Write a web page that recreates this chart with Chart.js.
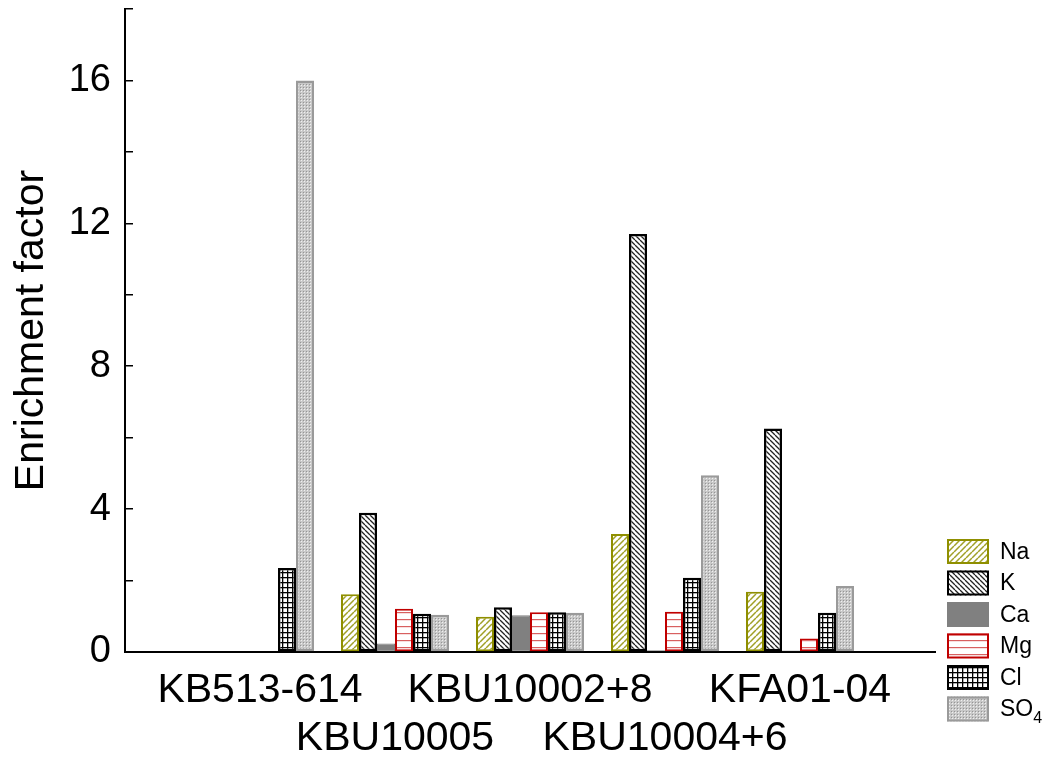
<!DOCTYPE html>
<html><head><meta charset="utf-8">
<script src="https://cdn.jsdelivr.net/npm/chart.js@4.4.1/dist/chart.umd.min.js"></script>
<style>html,body{margin:0;padding:0;background:#fff;overflow:hidden}</style>
</head><body>
<canvas id="c" width="1055" height="760" style="display:block;width:1055px;height:760px"></canvas>
<script>
const categories = ['KB513-614', 'KBU10005', 'KBU10002+8', 'KBU10004+6', 'KFA01-04'];
const seriesNames = ['Na', 'K', 'Ca', 'Mg', 'Cl', 'SO4'];
const Na  = [0,    1.62, 0.99, 3.30,  1.69];
const K   = [0,    3.90, 1.25, 11.70, 6.26];
const Ca  = [0,    0.24, 1.03, 0.05,  0.04];
const Mg  = [0,    1.21, 1.11, 1.13,  0.38];
const Cl  = [2.35, 1.07, 1.11, 2.08,  1.10];
const SO4 = [16.0, 1.04, 1.10, 4.95,  1.85];
const yTickLabels = [0, 4, 8, 12, 16];

const FONT = "'Liberation Sans', Arial, sans-serif";
const mainCtx = document.getElementById('c').getContext('2d');

function pat(size, draw) {
  const c = document.createElement('canvas');
  c.width = c.height = size;
  const g = c.getContext('2d');
  g.fillStyle = '#fff'; g.fillRect(0, 0, size, size);
  draw(g, size);
  return mainCtx.createPattern(c, 'repeat');
}
function diag(g, s, color, w, dir) {
  g.strokeStyle = color; g.lineWidth = w; g.beginPath();
  for (let k = -1; k <= 1; k++) {
    if (dir > 0) { g.moveTo(k * s, s); g.lineTo(k * s + s, 0); }
    else { g.moveTo(k * s, 0); g.lineTo(k * s + s, s); }
  }
  g.stroke();
}
const pNa = pat(6, (g, s) => diag(g, s, '#a0a028', 1.5, 1));
const pK  = pat(5, (g, s) => diag(g, s, '#222', 1.3, -1));
const pMg = pat(7, (g, s) => { g.fillStyle = '#d86060'; g.fillRect(0, 3, s, 1.2); });
const pCl = pat(5, (g, s) => { g.fillStyle = '#000'; g.fillRect(0, 2, s, 1.3); g.fillRect(2, 0, 1.3, s); });
const pSO = pat(6, (g, s) => {
  g.fillStyle = '#c8c8c8'; g.fillRect(0, 0, s, s);
  g.fillStyle = '#f0f0f0';
  g.fillRect(1, 1, 1, 1); g.fillRect(4, 4, 1, 1); g.fillRect(4, 1, 1, 1); g.fillRect(1, 4, 1, 1);
  g.fillStyle = '#959595';
  g.fillRect(0, 0, 1, 1); g.fillRect(3, 3, 1, 1); g.fillRect(3, 0, 1, 1); g.fillRect(0, 3, 1, 1);
});

const seriesData = [Na, K, Ca, Mg, Cl, SO4];
const fills   = [pNa, pK, '#808080', pMg, pCl, pSO];
const borders = ['#8f8f00', '#000000', '#808080', '#c00000', '#000000', '#9a9a9a'];
const bwidths = [2, 2.5, 1, 2, 2.5, 2.5];

const labels = [''].concat(categories, ['']);
const datasets = seriesNames.map((n, i) => ({
  label: n,
  data: [null].concat(seriesData[i], [null]),
  backgroundColor: fills[i],
  borderColor: borders[i],
  borderWidth: bwidths[i],
  borderSkipped: false,
  categoryPercentage: 0.8,
  barPercentage: 1.0
}));

const legendPlugin = {
  id: 'customLegend',
  afterDraw(chart) {
    const ctx = chart.ctx;
    const x0 = chart.chartArea.right + 12, y0 = 539, bw = 42, bh = 25, gap = 31.5;
    ctx.save();
    chart.data.datasets.forEach((ds, i) => {
      const y = y0 + i * gap;
      ctx.fillStyle = ds.backgroundColor;
      ctx.fillRect(x0, y, bw, bh);
      ctx.lineWidth = 2;
      ctx.strokeStyle = ds.borderColor;
      ctx.strokeRect(x0 + 1, y + 1, bw - 2, bh - 2);
      ctx.fillStyle = '#000';
      ctx.textBaseline = 'middle';
      ctx.textAlign = 'left';
      const m = /^(\D+)(\d+)$/.exec(ds.label);
      const tx = x0 + bw + 11, ty = y + bh / 2 + 1;
      ctx.font = '23px ' + FONT;
      if (m) {
        ctx.fillText(m[1], tx, ty);
        const w = ctx.measureText(m[1]).width;
        ctx.font = '16px ' + FONT;
        ctx.fillText(m[2], tx + w, ty + 9);
      } else {
        ctx.fillText(ds.label, tx, ty);
      }
    });
    ctx.restore();
  }
};

new Chart(mainCtx, {
  type: 'bar',
  data: { labels, datasets },
  plugins: [legendPlugin],
  options: {
    responsive: false,
    animation: false,
    layout: { padding: { top: 9, right: 120, left: 0, bottom: 0 } },
    plugins: { legend: { display: false }, tooltip: { enabled: false } },
    scales: {
      x: {
        offset: false,
        grid: { display: false, drawTicks: false },
        border: { color: '#000', width: 2 },
        ticks: {
          autoSkip: false, maxRotation: 0, minRotation: 0,
          color: '#000', padding: 15,
          font: { family: FONT, size: 41, lineHeight: 1.17 },
          callback: (v, i) => {
            if (i === 0 || i === labels.length - 1) return '';
            const k = i - 1;
            return k % 2 === 0 ? [categories[k], ''] : ['', categories[k]];
          }
        },
        afterFit: s => { s.height = 108; s.paddingLeft = 0; s.paddingRight = 0; }
      },
      y: {
        min: 0, max: 18,
        ticks: {
          stepSize: 2, color: '#000', padding: 22,
          font: { family: FONT, size: 38 },
          callback: v => yTickLabels.includes(v) ? String(v) : ''
        },
        grid: { drawOnChartArea: false, tickLength: -8, color: '#000', lineWidth: 1.5 },
        border: { color: '#000', width: 2 },
        title: {
          display: true, text: 'Enrichment factor', color: '#000',
          font: { family: FONT, size: 41 }, padding: { top: 7, bottom: 0 }
        },
        afterFit: s => { s.width = 125; s.paddingTop = 0; s.paddingBottom = 0; }
      }
    }
  }
});
</script>
</body></html>
